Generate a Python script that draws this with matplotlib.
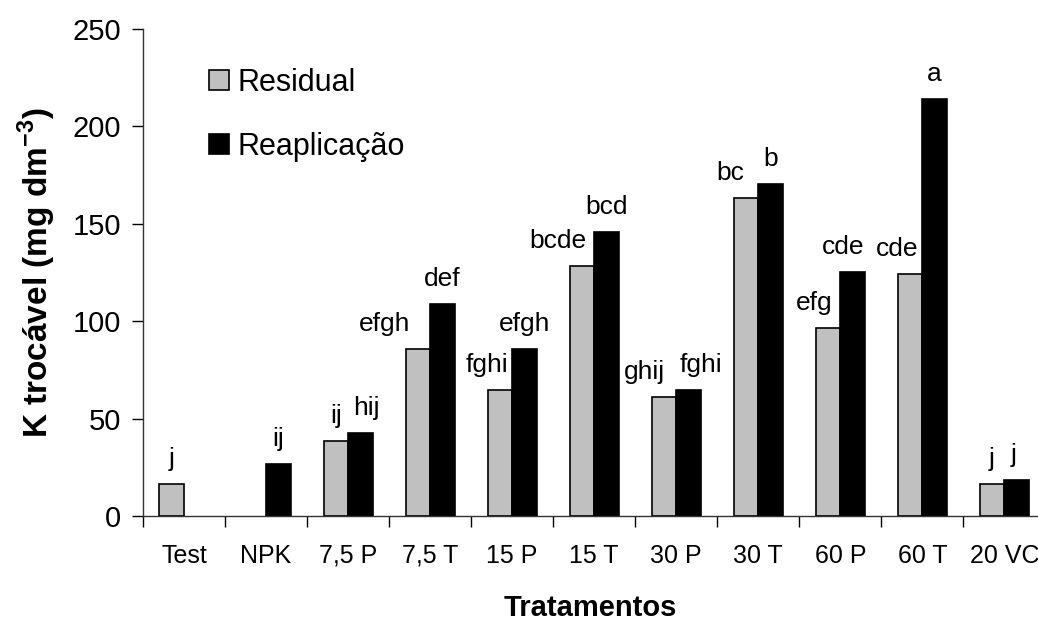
import numpy as np
import matplotlib
matplotlib.use("Agg")
import matplotlib.pyplot as plt

plt.rcParams['font.family'] = ['Liberation Sans', 'DejaVu Sans']
plt.rcParams['mathtext.fontset'] = 'custom'
plt.rcParams['mathtext.rm'] = 'Liberation Sans'
plt.rcParams['mathtext.bf'] = 'Liberation Sans:bold'

tratamentos = ['Test', 'NPK', '7,5 P', '7,5 T', '15 P', '15 T',
               '30 P', '30 T', '60 P', '60 T', '20 VC']
residual = [16.3, np.nan, 38.3, 85.7, 64.8, 128.3, 61.1, 163.4, 96.3, 124.4, 16.6]
reaplicacao = [np.nan, 26.9, 42.8, 108.8, 85.9, 145.6, 64.8, 170.6, 125.3, 214.1, 18.6]
letras_res = ['j', '', 'ij', 'efgh', 'fghi', 'bcde', 'ghij', 'bc', 'efg', 'cde', 'j']
letras_rea = ['', 'ij', 'hij', 'def', 'efgh', 'bcd', 'fghi', 'b', 'cde', 'a', 'j']
# small horizontal nudges of the letters (points), as placed in the original
dx_res = [0, 0, 0, -24, -9, -17, -14, -11, -10, -9, 0]
dx_rea = [0, 0, 4, 0, 0, 0, 9, 0, -7, 0, -2]

x = np.arange(len(tratamentos))
w = 0.3

fig = plt.figure(figsize=(10.38, 6.23), dpi=100)
ax = fig.add_axes([0.1378, 0.1717, 0.8622, 0.7818])

ax.bar(x - w / 2, residual, w, color='#c0c0c0', edgecolor='black',
       linewidth=1.2, label='Residual')
ax.bar(x + w / 2, reaplicacao, w, color='black', edgecolor='black',
       linewidth=1.2, label='Reaplicação')

for i in range(len(x)):
    if letras_res[i]:
        ax.annotate(letras_res[i], (x[i] - w / 2, residual[i]),
                    xytext=(dx_res[i], 13), textcoords='offset points',
                    ha='center', va='baseline', fontsize=19)
    if letras_rea[i]:
        ax.annotate(letras_rea[i], (x[i] + w / 2, reaplicacao[i]),
                    xytext=(dx_rea[i], 13), textcoords='offset points',
                    ha='center', va='baseline', fontsize=19)

ax.set_ylim(0, 250)
ax.set_xlim(-0.5, 10.41)
ax.set_yticks([0, 50, 100, 150, 200, 250])
ax.set_xticks(x)
ax.set_xticklabels(tratamentos)
ax.set_xticks(np.arange(-0.5, 10.5, 1), minor=True)
ax.tick_params(axis='x', which='major', length=0, pad=20, labelsize=18)
ax.tick_params(axis='x', which='minor', length=8, direction='out', width=1)
ax.tick_params(axis='y', length=8, width=1, pad=8, labelsize=21)

for s in ['top', 'right']:
    ax.spines[s].set_visible(False)
for s in ['left', 'bottom']:
    ax.spines[s].set_linewidth(1)
    ax.spines[s].set_color('#333333')

ax.set_xlabel('Tratamentos', fontsize=21, fontweight='bold', labelpad=19)
ax.set_ylabel(r'K trocável (mg dm$^{\mathbf{-3}}$)', fontsize=24,
              fontweight='bold', labelpad=10)

ax.legend(loc='upper left', bbox_to_anchor=(0.06, 0.945), frameon=False,
          fontsize=22, handlelength=0.65, handleheight=0.65,
          handletextpad=0.3, labelspacing=1.1, borderaxespad=0)

plt.savefig('out.png', dpi=100)
